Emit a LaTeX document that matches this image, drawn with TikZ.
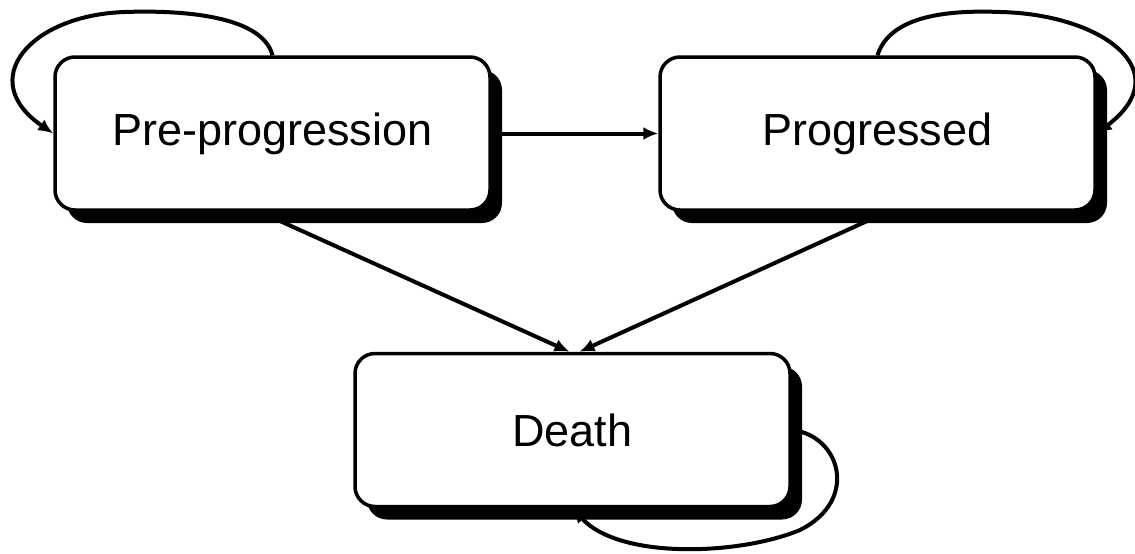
\documentclass[tikz,border=0pt]{standalone}
\usepackage{fontspec}
\setmainfont{Liberation Sans}
\usetikzlibrary{arrows.meta,shadows,backgrounds}
\begin{document}
\begin{tikzpicture}[x=1pt,y=-1pt,
  statebox/.style={draw=black, line width=3.5pt, fill=white, rounded corners=20pt,
    minimum width=435pt, minimum height=153pt, inner sep=0pt,
    font=\fontsize{45}{54}\selectfont,
    drop shadow={shadow xshift=12pt, shadow yshift=-13pt, opacity=1, fill=black}},
  conn/.style={line width=4pt, -{Latex[length=15pt,width=13pt]}}]
\useasboundingbox (0,0) rectangle (1135,554);
\node[statebox] (pre) at (272.5,133.5) {Pre-progression};
\node[statebox] (prog) at (877.5,133.5) {Progressed};
\node[statebox] (death) at (572.5,430) {Death};
\begin{scope}[on background layer]
\draw[conn] (pre.east) -- (prog.west);
\draw[conn] ([xshift=-13pt]pre.south) -- ([xshift=-3pt]death.north);
\draw[conn] ([xshift=10pt]prog.south) -- ([xshift=7pt]death.north);
\draw[conn] (pre.north) .. controls (262,15) and (180,10) .. (125,12)
   .. controls (30,15) and (-25,80) .. (pre.west);
\draw[conn] (prog.north) .. controls (890,15) and (950,10) .. (1000,12)
   .. controls (1100,14) and (1180,70) .. (prog.east);
\draw[conn] (death.east) .. controls (840,435) and (860,500) .. (800,530)
   .. controls (740,555) and (620,560) .. (death.south);
\end{scope}
\end{tikzpicture}
\end{document}
